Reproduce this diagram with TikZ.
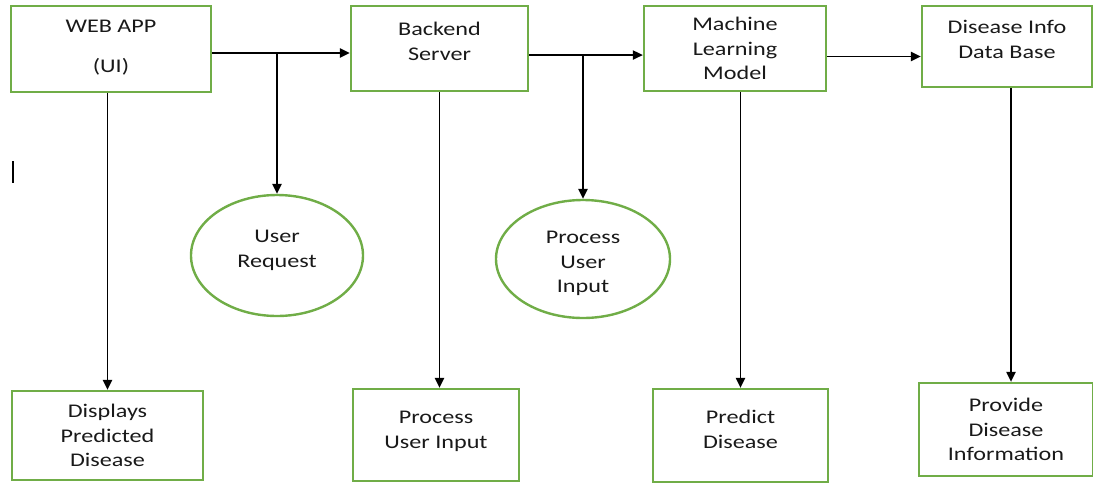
\documentclass[tikz,border=0pt]{standalone}
\usepackage{fontspec}
\setmainfont{Carlito}[FakeStretch=1.25]
\usetikzlibrary{arrows.meta,shapes.geometric}
\definecolor{boxgreen}{HTML}{70AD47}

\begin{document}
\begin{tikzpicture}[x=0.75pt, y=-0.75pt,
    box/.style={draw=boxgreen, line width=1.8pt, align=center, text=black!90,
      font=\fontsize{14.5}{18.5}\selectfont, inner sep=0pt},
    oval/.style={box, ellipse},
    arr/.style={draw=black, line width=1pt, -{Triangle[length=7.5pt,width=7pt]}}]

  \useasboundingbox (0,0) rectangle (1093,483);

  %% ===== TOP ROW =====
  \node[box, minimum width=150pt, minimum height=64.5pt] (web) at (111,49)
    {WEB APP\\[11.5pt](UI)\\[-14.9pt]\mbox{}};
  \node[box, minimum width=132.75pt, minimum height=63.75pt] (back) at (439.5,48.5)
    {Backend\\Server\\[-8pt]\mbox{}};
  \node[box, minimum width=136.5pt, minimum height=63.75pt] (ml) at (735,48.5)
    {Machine\\Learning\\Model};
  \node[box, minimum width=127.5pt, minimum height=60.75pt] (db) at (1007,46.5)
    {Disease Info\\Data Base\\[-8pt]\mbox{}};

  %% ===== MIDDLE: REQUEST OVALS =====
  \node[oval, minimum width=129pt, minimum height=90.75pt] (req) at (277,255.5)
    {User\\Request\\[-8.75pt]\mbox{}};
  \node[oval, minimum width=130.5pt, minimum height=88.5pt] (inp) at (583,259)
    {\mbox{}\\[-2.5pt]Process\\User\\Input};

  %% ===== BOTTOM ROW =====
  \node[box, minimum width=143.25pt, minimum height=66.75pt] (disp) at (107.5,435.5)
    {Displays\\Predicted\\Disease};
  \node[box, minimum width=124.5pt, minimum height=69pt] (proc) at (436,435)
    {Process\\User Input\\[-11pt]\mbox{}};
  \node[box, minimum width=131.25pt, minimum height=69.75pt] (pred) at (740.5,435.5)
    {Predict\\Disease\\[-8.75pt]\mbox{}};
  \node[box, minimum width=130.5pt, minimum height=69.75pt] (prov) at (1006,429.5)
    {Provide\\Disease\\Information};

  % Flow along the top
  \draw[arr] ([yshift=-3pt]web.east) -- ([yshift=-3pt]web.east -| back.west);
  \draw[arr] ([yshift=-3pt]web.east -| req.north) -- (req.north);
  \draw[arr] ([yshift=-4.9pt]back.east) -- ([yshift=-4.9pt]back.east -| ml.west);
  \draw[arr] ([yshift=-4.9pt]back.east -| inp.north) -- (inp.north);
  \draw[arr] ([yshift=-6pt]ml.east) -- ([yshift=-6pt]ml.east -| db.west);

  % Downward links
  \draw[arr] (disp.north |- web.south) -- (disp.north);
  \draw[arr] (back.south) -- (back.south |- proc.north);
  \draw[arr] (pred.north |- ml.south) -- (pred.north);
  \draw[arr] ([xshift=3pt]db.south) -- ([xshift=3pt]db.south |- prov.north);

  % Stray mark on the left
  \draw[line width=1pt] (13,161) -- (13,183);

\end{tikzpicture}
\end{document}
